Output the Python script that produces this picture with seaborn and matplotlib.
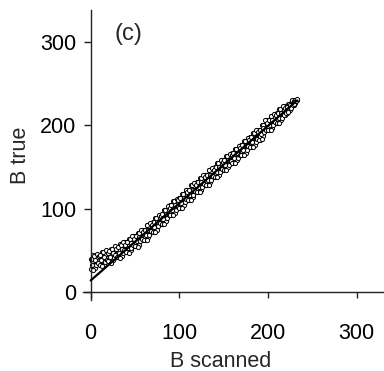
import matplotlib
matplotlib.use("Agg")
import matplotlib.pyplot as plt
import seaborn as sns
import pandas as pd

# ---- data ----
b_scanned_a = list(range(0, 234))
b_true_a = [
    40, 28, 37, 44, 32, 29, 41, 37, 45, 34,
    45, 32, 42, 48, 37, 33, 45, 41, 49, 38,
    49, 37, 46, 52, 41, 38, 50, 46, 54, 43,
    54, 42, 51, 58, 46, 43, 56, 51, 60, 48,
    60, 48, 57, 64, 53, 50, 62, 58, 67, 55,
    67, 55, 65, 71, 60, 57, 70, 66, 74, 63,
    75, 63, 73, 80, 69, 66, 78, 74, 83, 72,
    84, 72, 82, 89, 78, 75, 88, 84, 93, 82,
    94, 82, 92, 99, 88, 85, 98, 94, 103, 92,
    104, 92, 102, 109, 98, 95, 107, 103, 112, 101,
    113, 101, 111, 118, 107, 104, 117, 113, 122, 111,
    123, 111, 121, 128, 117, 114, 126, 122, 131, 120,
    132, 120, 130, 137, 126, 123, 135, 131, 140, 129,
    141, 129, 139, 146, 135, 132, 144, 140, 149, 138,
    150, 138, 148, 155, 144, 141, 153, 149, 158, 147,
    159, 147, 157, 163, 152, 150, 162, 158, 166, 155,
    167, 155, 165, 172, 161, 158, 170, 166, 175, 164,
    176, 164, 174, 181, 170, 167, 180, 176, 185, 174,
    186, 174, 184, 191, 180, 177, 189, 185, 194, 183,
    195, 183, 193, 201, 189, 187, 200, 196, 206, 194,
    206, 194, 204, 211, 200, 197, 209, 205, 214, 203,
    215, 203, 213, 220, 209, 206, 218, 214, 223, 212,
    222, 215, 221, 226, 219, 218, 227, 224, 229, 225,
    231, 227, 231, 231,
]
b_scanned_b = list(range(0, 234))
b_true_b = [
    28, 40, 33, 27, 43, 38, 32, 46, 35, 43,
    33, 44, 38, 31, 48, 42, 36, 50, 39, 47,
    37, 49, 42, 35, 52, 47, 41, 55, 44, 52,
    42, 54, 47, 41, 57, 52, 47, 60, 50, 57,
    48, 60, 53, 47, 64, 59, 53, 67, 57, 64,
    55, 67, 61, 54, 71, 66, 61, 75, 64, 72,
    63, 75, 69, 63, 80, 75, 69, 83, 73, 81,
    72, 84, 78, 72, 89, 84, 79, 93, 83, 91,
    82, 94, 88, 82, 99, 94, 89, 103, 93, 101,
    92, 104, 98, 92, 109, 104, 98, 112, 102, 110,
    101, 113, 107, 101, 118, 113, 108, 122, 112, 120,
    111, 123, 117, 111, 128, 123, 117, 131, 121, 129,
    120, 132, 126, 120, 137, 132, 126, 140, 130, 138,
    129, 141, 135, 129, 146, 141, 135, 149, 139, 147,
    138, 150, 144, 138, 155, 150, 144, 158, 148, 156,
    147, 159, 153, 146, 163, 159, 153, 166, 157, 164,
    155, 167, 161, 155, 172, 167, 161, 175, 165, 173,
    164, 176, 170, 164, 181, 176, 171, 185, 175, 183,
    174, 186, 180, 174, 191, 186, 180, 194, 184, 192,
    183, 195, 190, 184, 201, 197, 192, 206, 195, 203,
    194, 206, 200, 194, 211, 206, 200, 214, 204, 212,
    203, 215, 209, 203, 220, 215, 209, 223, 213, 221,
    215, 222, 219, 216, 226, 224, 221, 230, 225, 229,
    226, 230, 229, 232,
]
fit_x = [0, 233]
fit_y = [14, 230]
x_ticks = [0, 100, 200, 300]
y_ticks = [0, 100, 200, 300]
panel_label = "(c)"

points = pd.DataFrame({
    "B scanned": b_scanned_a + b_scanned_b,
    "B true": b_true_a + b_true_b,
})
fit = pd.DataFrame({"x": fit_x, "y": fit_y})

sns.set_style("ticks")
plt.rcParams["font.family"] = ["Liberation Sans", "DejaVu Sans"]

fig = plt.figure(figsize=(3.84, 3.71), dpi=100)
ax = fig.add_axes([0.217, 0.191, 0.783, 0.782])

sns.scatterplot(data=points, x="B scanned", y="B true", ax=ax,
                marker="o", s=9, facecolor="white", edgecolor="black",
                linewidth=0.7, zorder=2)
sns.lineplot(data=fit, x="x", y="y", ax=ax, color="black",
             linewidth=1.6, zorder=3)

ax.set_xlim(-8.3, 331)
ax.set_ylim(-9.6, 338.5)
ax.spines["left"].set_position(("data", 0))
ax.spines["bottom"].set_position(("data", 0))
ax.spines["top"].set_visible(False)
ax.spines["right"].set_visible(False)
for s in ("left", "bottom"):
    ax.spines[s].set_linewidth(1.0)
    ax.spines[s].set_color("#222222")

fs = 15.5
ax.set_xticks(x_ticks)
ax.set_yticks(y_ticks)
ax.tick_params(axis="x", direction="out", length=4.5, width=1.0,
               pad=18, labelsize=fs, colors="#222222", labelcolor="black")
ax.tick_params(axis="y", direction="out", length=5.4, width=1.0,
               pad=5.0, labelsize=fs, colors="#222222", labelcolor="black")

ax.set_xlabel("B scanned", fontsize=fs)
ax.set_ylabel("B true", fontsize=fs)
ax.xaxis.set_label_coords((220.8 - 83.3) / 300.7, -(361.7 - 300) / 290, transform=ax.transAxes)
ax.yaxis.set_label_coords(-(83.3 - 20) / 300.7, 0.5, transform=ax.transAxes)
ax.xaxis.label.set_va("center")
ax.yaxis.label.set_va("center")

ax.text(43, 310, panel_label, fontsize=17, ha="center", va="center")

fig.savefig("out.png", dpi=100)
